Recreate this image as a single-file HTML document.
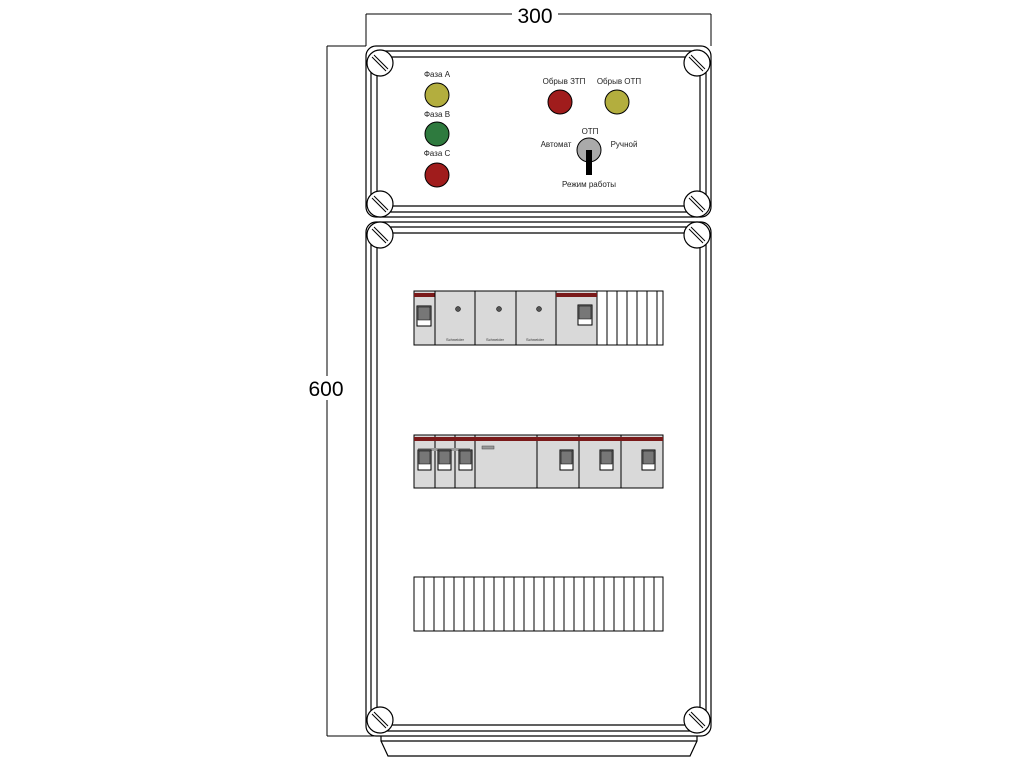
<!DOCTYPE html>
<html><head><meta charset="utf-8"><style>html,body{margin:0;padding:0;background:#fff}svg{display:block}</style></head>
<body>
<svg width="1024" height="768" viewBox="0 0 1024 768" xmlns="http://www.w3.org/2000/svg" font-family="Liberation Sans, sans-serif">
<defs>
<g id="screw"><circle r="13" fill="#fff" stroke="#000" stroke-width="1.2"/><line x1="-8" y1="-6" x2="6" y2="8" stroke="#000"/><line x1="-6" y1="-8" x2="8" y2="6" stroke="#000"/></g>
<g id="brk"><rect x="0" y="0" width="21" height="54" fill="#d9d9d9" stroke="#000"/><rect x="0" y="2" width="21" height="4" fill="#7a1a1a"/><rect x="3" y="15" width="14" height="20" fill="#fff" stroke="#000"/><rect x="4" y="16" width="12" height="13" fill="#777" stroke="#000" stroke-width="0.5"/></g>
</defs>
<!-- dimensions -->
<g stroke="#000" stroke-width="1" fill="none">
<line x1="366" y1="14" x2="711" y2="14"/><line x1="366" y1="14" x2="366" y2="46"/><line x1="711" y1="14" x2="711" y2="46"/>
<line x1="327" y1="46" x2="366" y2="46"/><line x1="327" y1="46" x2="327" y2="736"/><line x1="327" y1="736" x2="380" y2="736"/>
</g>
<rect x="512" y="4" width="46" height="20" fill="#fff"/>
<text x="535" y="23" font-size="21" text-anchor="middle">300</text>
<rect x="304" y="376" width="46" height="24" fill="#fff"/>
<text x="326" y="396" font-size="21" text-anchor="middle">600</text>
<!-- top box -->
<g fill="none" stroke="#000" stroke-width="1.2">
<rect x="366" y="46" width="345" height="171" rx="10"/>
<rect x="371" y="51" width="335" height="161" rx="8"/>
<rect x="377" y="57" width="323" height="149" rx="6"/>
<rect x="366" y="222" width="345" height="514" rx="10"/>
<rect x="371" y="227" width="335" height="504" rx="8"/>
<rect x="377" y="233" width="323" height="492" rx="6"/>
<line x1="381" y1="741" x2="697" y2="741"/>
<polyline points="381,736 381,741 388,756 690,756 697,741 697,736"/>
</g>
<use href="#screw" x="380" y="63"/><use href="#screw" x="697" y="63"/>
<use href="#screw" x="380" y="204"/><use href="#screw" x="697" y="204"/>
<use href="#screw" x="380" y="235"/><use href="#screw" x="697" y="235"/>
<use href="#screw" x="380" y="720"/><use href="#screw" x="697" y="720"/>
<!-- lamps -->
<g font-size="8" text-anchor="middle" fill="#222">
<text x="437" y="77">Фаза А</text><text x="437" y="117">Фаза В</text><text x="437" y="156">Фаза С</text>
<text x="564" y="84">Обрыв ЗТП</text><text x="619" y="84">Обрыв ОТП</text>
<text x="590" y="134">ОТП</text><text x="556" y="147">Автомат</text><text x="624" y="147">Ручной</text>
<text x="589" y="187">Режим работы</text>
</g>
<g stroke="#000" stroke-width="1">
<circle cx="437" cy="95" r="12" fill="#b3ae3e"/>
<circle cx="437" cy="134" r="12" fill="#2e7a3e"/>
<circle cx="437" cy="175" r="12" fill="#a01c1c"/>
<circle cx="560" cy="102" r="12" fill="#a01c1c"/>
<circle cx="617" cy="102" r="12" fill="#b3ae3e"/>
<circle cx="589" cy="150" r="12" fill="#aaa"/>
</g>
<rect x="586" y="150" width="6" height="25" fill="#000"/>
<!-- row 1 -->
<rect x="414" y="291" width="249" height="54" fill="#fff" stroke="#000"/>
<use href="#brk" x="414" y="291"/>
<g stroke="#000" fill="#d9d9d9">
<rect x="435" y="291" width="40" height="54"/><rect x="475" y="291" width="41" height="54"/><rect x="516" y="291" width="40" height="54"/>
</g>
<g fill="#555" stroke="#000" stroke-width="0.5"><circle cx="458" cy="309" r="2.5"/><circle cx="499" cy="309" r="2.5"/><circle cx="539" cy="309" r="2.5"/></g>
<g font-size="4" fill="#333"><text x="446" y="341">Schneider</text><text x="486" y="341">Schneider</text><text x="526" y="341">Schneider</text></g>
<g><rect x="556" y="291" width="41" height="54" fill="#d9d9d9" stroke="#000"/><rect x="556" y="293" width="41" height="4" fill="#7a1a1a"/><rect x="578" y="305" width="14" height="20" fill="#fff" stroke="#000"/><rect x="579" y="306" width="12" height="13" fill="#777" stroke="#000" stroke-width="0.5"/></g>
<g stroke="#000"><line x1="607" y1="291" x2="607" y2="345"/><line x1="617" y1="291" x2="617" y2="345"/><line x1="627" y1="291" x2="627" y2="345"/><line x1="637" y1="291" x2="637" y2="345"/><line x1="647" y1="291" x2="647" y2="345"/><line x1="657" y1="291" x2="657" y2="345"/></g>
<!-- row 2 -->
<g stroke="#000" fill="#d9d9d9">
<rect x="414" y="435" width="249" height="53"/>
<rect x="414" y="435" width="21" height="53"/><rect x="435" y="435" width="20" height="53"/><rect x="455" y="435" width="20" height="53"/>
<rect x="475" y="435" width="62" height="53"/><rect x="537" y="435" width="42" height="53"/><rect x="579" y="435" width="42" height="53"/><rect x="621" y="435" width="42" height="53"/>
</g>
<rect x="414" y="437" width="249" height="4" fill="#7a1a1a"/>
<rect x="418" y="448" width="52" height="3" fill="#999"/>
<rect x="482" y="446" width="12" height="3" fill="#999" stroke="#444" stroke-width="0.5"/>
<g stroke="#000" fill="#fff">
<rect x="418" y="450" width="13" height="20"/><rect x="438" y="450" width="13" height="20"/><rect x="459" y="450" width="13" height="20"/>
<rect x="560" y="450" width="13" height="20"/><rect x="600" y="450" width="13" height="20"/><rect x="642" y="450" width="13" height="20"/>
</g>
<g fill="#777" stroke="#000" stroke-width="0.5">
<rect x="419" y="451" width="11" height="13"/><rect x="439" y="451" width="11" height="13"/><rect x="460" y="451" width="11" height="13"/>
<rect x="561" y="451" width="11" height="13"/><rect x="601" y="451" width="11" height="13"/><rect x="643" y="451" width="11" height="13"/>
</g>
<!-- row 3 -->
<rect x="414" y="577" width="249" height="54" fill="#fff" stroke="#000"/>
<g stroke="#000">
<line x1="424" y1="577" x2="424" y2="631"/><line x1="434" y1="577" x2="434" y2="631"/><line x1="444" y1="577" x2="444" y2="631"/><line x1="454" y1="577" x2="454" y2="631"/><line x1="464" y1="577" x2="464" y2="631"/><line x1="474" y1="577" x2="474" y2="631"/><line x1="484" y1="577" x2="484" y2="631"/><line x1="494" y1="577" x2="494" y2="631"/><line x1="504" y1="577" x2="504" y2="631"/><line x1="514" y1="577" x2="514" y2="631"/><line x1="524" y1="577" x2="524" y2="631"/><line x1="534" y1="577" x2="534" y2="631"/><line x1="544" y1="577" x2="544" y2="631"/><line x1="554" y1="577" x2="554" y2="631"/><line x1="564" y1="577" x2="564" y2="631"/><line x1="574" y1="577" x2="574" y2="631"/><line x1="584" y1="577" x2="584" y2="631"/><line x1="594" y1="577" x2="594" y2="631"/><line x1="604" y1="577" x2="604" y2="631"/><line x1="614" y1="577" x2="614" y2="631"/><line x1="624" y1="577" x2="624" y2="631"/><line x1="634" y1="577" x2="634" y2="631"/><line x1="644" y1="577" x2="644" y2="631"/><line x1="654" y1="577" x2="654" y2="631"/>
</g>
</svg>
</body></html>
